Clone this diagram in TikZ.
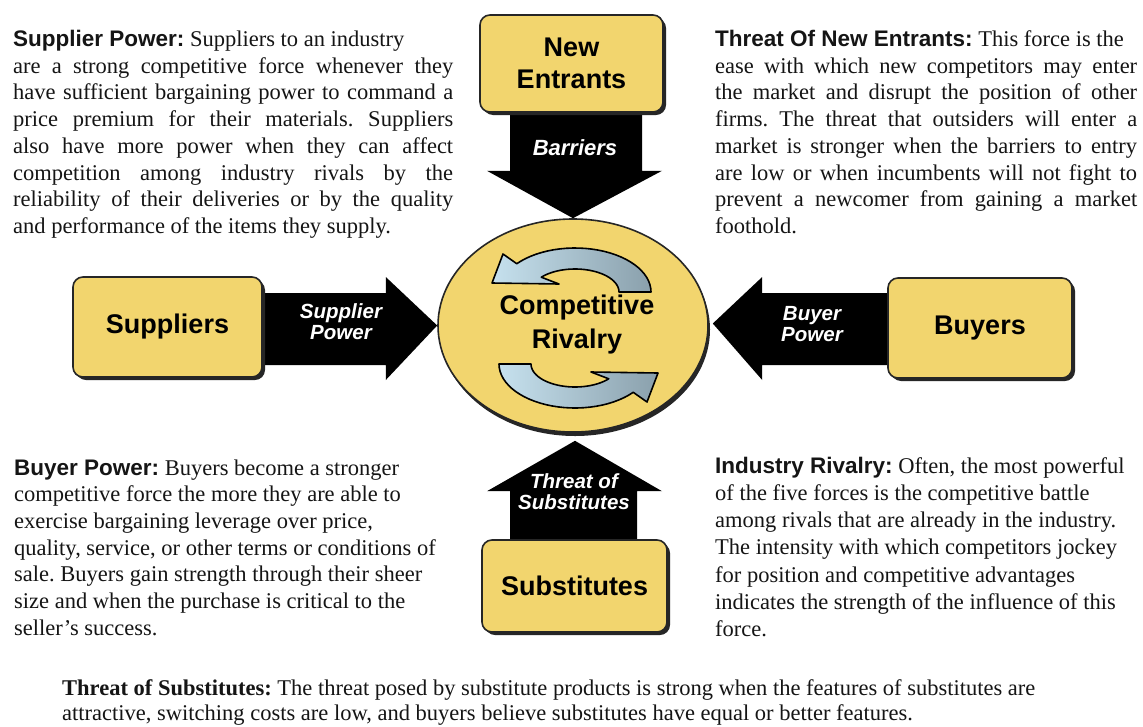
\documentclass[tikz,border=0pt]{standalone}
\usepackage{fontspec}
\setmainfont{Liberation Serif}
\setsansfont{Liberation Sans}
\usetikzlibrary{shadows,calc,shapes.geometric}
\definecolor{boxyellow}{HTML}{F2D56E}
\definecolor{txt}{HTML}{151515}
\definecolor{arrlight}{HTML}{C6E1EE}
\definecolor{arrdark}{HTML}{8AA0AC}
\hbadness=10000 \hfuzz=200pt
\frenchspacing
\newcommand{\jl}[2]{\hbox to #1{#2}}
\newcommand{\rl}[1]{\hbox{#1}}
\newcommand{\hd}[1]{{\sffamily\bfseries #1}}
\pgfdeclarelayer{bg}
\pgfsetlayers{bg,main}
\begin{document}
\begin{tikzpicture}[x=1pt,y=-1pt,
  forcebox/.style={draw=black!85, line width=1.6pt, fill=boxyellow, rounded corners=10pt,
    drop shadow={shadow xshift=3pt, shadow yshift=-3pt, fill=black!85, opacity=1},
    font=\sffamily\bfseries\fontsize{27}{32}\selectfont, align=center, inner sep=0pt},
  rivalry/.style={ellipse, draw=black!85, line width=1.6pt, fill=boxyellow,
    drop shadow={shadow xshift=2pt, shadow yshift=-4pt, fill=black!85, opacity=1}, inner sep=0pt},
  bigarrow/.style={fill=black},
  arrowlabel/.style={text=white, font=\sffamily\bfseries\itshape\fontsize{20.5}{21}\selectfont, align=center, inner sep=0pt},
  rivarrow/.style={draw=black, line width=1.6pt, left color=arrlight, right color=arrdark, line join=round},
  rivtext/.style={font=\sffamily\bfseries\fontsize{27}{34}\selectfont, align=center, inner sep=0pt, text=black},
  desc/.style={anchor=base west, inner sep=0pt, text=txt}
]
\useasboundingbox (0,0) rectangle (1143,726);

% force boxes
\node[forcebox, minimum width=183pt, minimum height=97pt] (ne) at (571.5,63.5) {New\\Entrants};
\node[forcebox, minimum width=189pt, minimum height=100pt] (sup) at (167.5,327) {Suppliers};
\node[forcebox, minimum width=184pt, minimum height=100pt] (buy) at (980,328) {Buyers};
\node[forcebox, minimum width=185pt, minimum height=92pt] (sub) at (574.5,586) {Substitutes};
\node[rivalry, minimum width=270pt, minimum height=213pt] (riv) at (573,325.5) {};

% big arrows
\begin{pgfonlayer}{bg}
\fill[white] (0,0) rectangle (1143,726);
\fill[bigarrow] ($(ne.south)+(-61.5,-5)$) -- ($(ne.south)+(-61.5,58)$) -- ($(ne.south)+(-84.5,58)$)
  -- (riv.north) -- ($(ne.south)+(90.5,58)$) -- ($(ne.south)+(70.5,58)$) -- ($(ne.south)+(70.5,-5)$) -- cycle;
\fill[bigarrow] ($(sup.east)+(-5,-34)$) -- ($(sup.east)+(123,-34)$) -- ($(sup.east)+(123,-50)$)
  -- (riv.west) -- ($(sup.east)+(123,53)$) -- ($(sup.east)+(123,38)$) -- ($(sup.east)+(-5,38)$) -- cycle;
\fill[bigarrow] ($(buy.west)+(5,-35)$) -- ($(buy.west)+(-125,-35)$) -- ($(buy.west)+(-125,-51)$)
  -- ($(riv.east)+(4,-2)$) -- ($(buy.west)+(-125,52)$) -- ($(buy.west)+(-125,37)$) -- ($(buy.west)+(5,37)$) -- cycle;
\fill[bigarrow] ($(sub.north)+(-64.5,5)$) -- ($(sub.north)+(-64.5,-48)$) -- ($(sub.north)+(-87.5,-48)$)
  -- ($(riv.south)+(2,8)$) -- ($(sub.north)+(87.5,-48)$) -- ($(sub.north)+(62.5,-48)$) -- ($(sub.north)+(62.5,5)$) -- cycle;
\end{pgfonlayer}

\node[arrowlabel, font=\sffamily\bfseries\itshape\fontsize{22}{24}\selectfont] (lbar) at (575,148) {Barriers};
\node[arrowlabel] (lsup) at (341,322) {Supplier\\Power};
\node[arrowlabel] (lbuy) at (812,324) {Buyer\\Power};
\node[arrowlabel] (lsub) at (574,492) {Threat of\\Substitutes};

% circular arrows inside rivalry
\filldraw[rivarrow] plot[domain=0:140, samples=30] ({575+76*cos(\x)},{292-44*sin(\x)})
  -- (503,254) -- (492,283) -- (559,284)
  -- plot[domain=140:0, samples=30] ({575+44*cos(\x)},{292-23*sin(\x)}) -- cycle;
\begin{scope}[rotate around={180:(575,328)}]
\filldraw[rivarrow] plot[domain=0:140, samples=30] ({575+76*cos(\x)},{292-44*sin(\x)})
  -- (503,254) -- (492,283) -- (559,284)
  -- plot[domain=140:0, samples=30] ({575+44*cos(\x)},{292-23*sin(\x)}) -- cycle;
\end{scope}
\node[rivtext] (rivlabel) at (577,325) {Competitive\\Rivalry};

% description texts
\node[desc] (tsup) at (13,46.5) {\vtop{\fontsize{22.5}{26.7}\selectfont
  \rl{\hd{Supplier Power:} Suppliers to an industry}
  \jl{440pt}{are a strong competitive force whenever they}
  \jl{440pt}{have sufficient bargaining power to command a}
  \jl{440pt}{price premium for their materials. Suppliers}
  \jl{440pt}{also have more power when they can affect}
  \jl{440pt}{competition among industry rivals by the}
  \jl{440pt}{reliability of their deliveries or by the quality}
  \rl{and performance of the items they supply.}}};

\node[desc] (tne) at (715,46.5) {\vtop{\fontsize{22.5}{26.7}\selectfont
  \rl{\hd{Threat Of New Entrants:} This force is the}
  \jl{422pt}{ease with which new competitors may enter}
  \jl{422pt}{the market and disrupt the position of other}
  \jl{422pt}{firms. The threat that outsiders will enter a}
  \jl{422pt}{market is stronger when the barriers to entry}
  \jl{422pt}{are low or when incumbents will not fight to}
  \jl{422pt}{prevent a newcomer from gaining a market}
  \rl{foothold.}}};

\node[desc] (tbuy) at (14,475) {\vtop{\fontsize{22.5}{26.7}\selectfont
  \rl{\hd{Buyer Power:} Buyers become a stronger}
  \rl{competitive force the more they are able to}
  \rl{exercise bargaining leverage over price,}
  \rl{quality, service, or other terms or conditions of}
  \rl{sale. Buyers gain strength through their sheer}
  \rl{size and when the purchase is critical to the}
  \rl{seller’s success.}}};

\node[desc] (triv) at (715,473) {\vtop{\fontsize{22.5}{27.3}\selectfont
  \rl{\hd{Industry Rivalry:} Often, the most powerful}
  \rl{of the five forces is the competitive battle}
  \rl{among rivals that are already in the industry.}
  \rl{The intensity with which competitors jockey}
  \rl{for position and competitive advantages}
  \rl{indicates the strength of the influence of this}
  \rl{force.}}};

\node[desc] (tsubst) at (62,695) {\vtop{\fontsize{22.5}{25}\selectfont
  \rl{\textbf{Threat of Substitutes:} The threat posed by substitute products is strong when the features of substitutes are}
  \rl{attractive, switching costs are low, and buyers believe substitutes have equal or better features.}}};
\end{tikzpicture}
\end{document}
